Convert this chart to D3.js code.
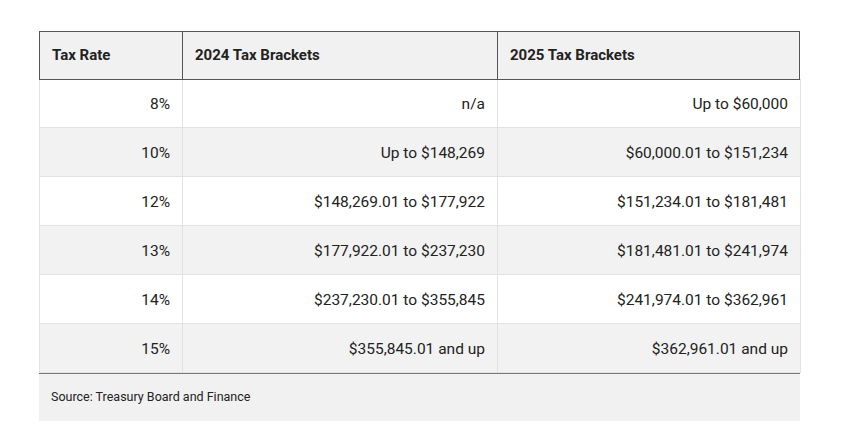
<!DOCTYPE html>
<html lang="en">
<head>
<meta charset="UTF-8">
<style>
    body { margin: 0; background: #fff; }
    text { font-family: Roboto, "Liberation Sans", sans-serif; fill: #222; }
    .head text { font-weight: 700; font-size: 15px; }
    .cell text { font-size: 15.5px; }
</style>
</head>
<body>
<script src="https://cdn.jsdelivr.net/npm/d3@7"></script>
<script>
// table contents
var headers = ["Tax Rate", "2024 Tax Brackets", "2025 Tax Brackets"];
var rates = ["8%", "10%", "12%", "13%", "14%", "15%"];
var brackets2024 = ["n/a", "Up to $148,269", "$148,269.01 to $177,922", "$177,922.01 to $237,230",
    "$237,230.01 to $355,845", "$355,845.01 and up"];
var brackets2025 = ["Up to $60,000", "$60,000.01 to $151,234", "$151,234.01 to $181,481",
    "$181,481.01 to $241,974", "$241,974.01 to $362,961", "$362,961.01 and up"];
var source = "Source: Treasury Board and Finance";

var rows = rates.map(function (r, i) { return [r, brackets2024[i], brackets2025[i]]; });

// note: "top" is reserved on window, so tableTop
var left = 39, right = 800, tableTop = 31, headH = 48, rowH = 49, footH = 48;
var colEdges = [39, 182, 497, 800];

var svg = d3.select("body").append("svg").attr("width", 848).attr("height", 442);

var y = d3.scaleBand().domain(d3.range(rows.length))
    .range([tableTop + headH, tableTop + headH + rowH * rows.length]);
var tableBottom = tableTop + headH + rowH * rows.length;

// body rows
var row = svg.selectAll(".cell").data(rows).enter().append("g").attr("class", "cell")
    .attr("transform", function (d, i) { return "translate(0," + y(i) + ")"; });
row.append("rect").attr("x", left).attr("width", right - left).attr("height", y.bandwidth())
    .attr("fill", function (d, i) { return i % 2 ? "#f2f2f2" : "#fff"; });
row.append("line").attr("x1", left).attr("x2", right).attr("y1", y.bandwidth() - 0.5).attr("y2", y.bandwidth() - 0.5)
    .attr("stroke", "#e2e2e2");
row.selectAll("text").data(function (d) { return d; }).enter().append("text")
    .attr("x", function (d, i) { return colEdges[i + 1] - 12; })
    .attr("y", y.bandwidth() / 2).attr("dy", "0.35em")
    .attr("text-anchor", "end")
    .text(function (d) { return d; });

// column separators
svg.selectAll(".vsep").data(colEdges).enter().append("line")
    .attr("x1", function (d) { return d + 0.5; }).attr("x2", function (d) { return d + 0.5; })
    .attr("y1", tableTop + headH).attr("y2", tableBottom)
    .attr("stroke", "#e2e2e2");

// header
var head = svg.append("g").attr("class", "head");
head.append("rect").attr("x", left + 0.5).attr("y", tableTop + 0.5).attr("width", right - left - 1).attr("height", headH)
    .attr("fill", "#f1f1f1").attr("stroke", "#555").attr("stroke-width", 1);
head.selectAll("line").data(colEdges.slice(1, 3)).enter().append("line")
    .attr("x1", function (d) { return d + 0.5; }).attr("x2", function (d) { return d + 0.5; })
    .attr("y1", tableTop).attr("y2", tableTop + headH).attr("stroke", "#555");
head.selectAll("text").data(headers).enter().append("text")
    .attr("x", function (d, i) { return colEdges[i] + 13; })
    .attr("y", tableTop + headH / 2).attr("dy", "0.35em")
    .text(function (d) { return d; });

// footer
svg.append("rect").attr("x", left).attr("y", tableBottom).attr("width", right - left).attr("height", footH)
    .attr("fill", "#f1f1f1");
svg.append("line").attr("x1", left).attr("x2", right).attr("y1", tableBottom + 0.5).attr("y2", tableBottom + 0.5)
    .attr("stroke", "#777");
svg.append("text").attr("x", left + 12).attr("y", tableBottom + footH / 2).attr("dy", "0.35em")
    .attr("font-size", "12.5px").text(source);
</script>
</body>
</html>
